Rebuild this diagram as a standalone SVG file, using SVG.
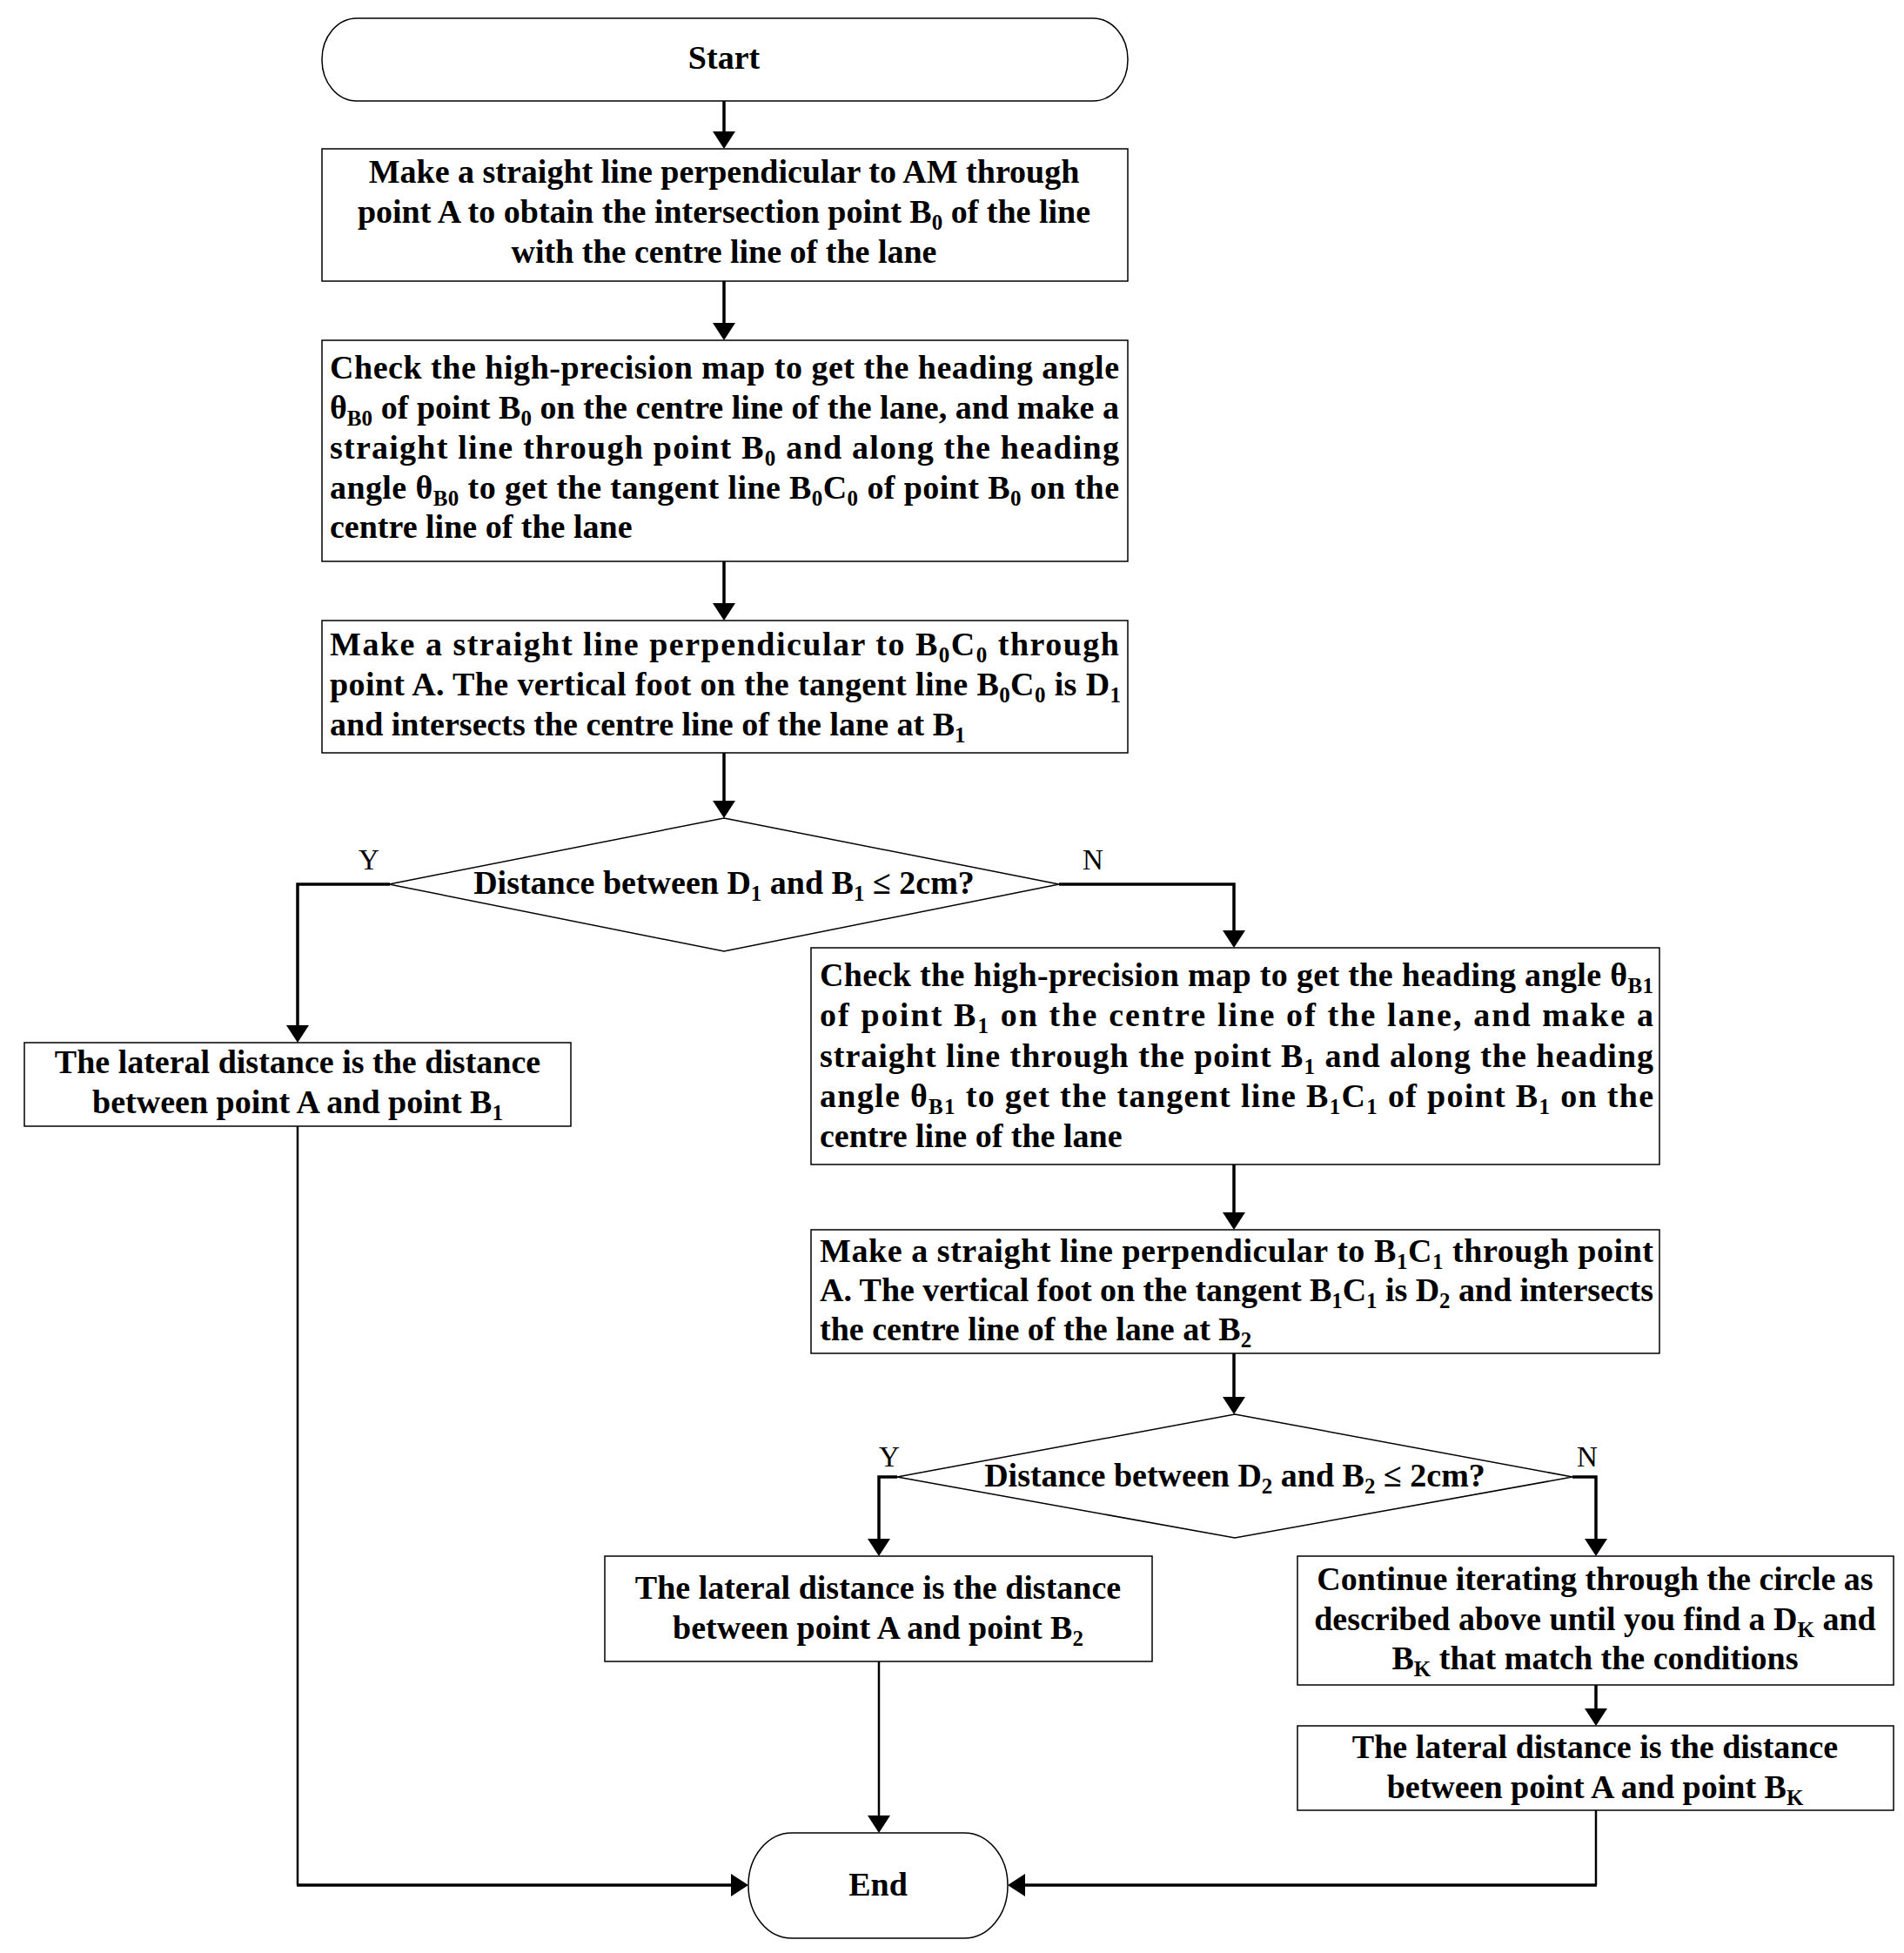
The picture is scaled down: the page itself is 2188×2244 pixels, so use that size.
<svg xmlns="http://www.w3.org/2000/svg" width="2188" height="2244" viewBox="0 0 2188 2244">
<style>
.box{fill:#fff;stroke:#000;stroke-width:1.5}
.t{font-family:"Liberation Serif","Times New Roman",serif;font-weight:bold;font-size:38px;fill:#000}
.c{text-anchor:middle}
.yn{font-family:"Liberation Serif","Times New Roman",serif;font-size:33px;fill:#000;text-anchor:middle}
.sub{font-size:25px;baseline-shift:-8px}
.conn{fill:none;stroke:#000;stroke-width:3.5}
.thin{fill:none;stroke:#000;stroke-width:2.5}
</style>
<defs>
<marker id="ah" markerUnits="userSpaceOnUse" markerWidth="20" markerHeight="26" viewBox="0 0 20 26" refX="10" refY="13" orient="auto">
<path d="M0,0 L20,13 L0,26 z" fill="#000"/>
</marker>
</defs>
<rect width="2188" height="2244" fill="#fff"/>
<g id="connectors">
<path class="conn" d="M832,116 V161" marker-end="url(#ah)"/>
<path class="conn" d="M832,323 V381" marker-end="url(#ah)"/>
<path class="conn" d="M832,645 V703" marker-end="url(#ah)"/>
<path class="conn" d="M832,865 V930" marker-end="url(#ah)"/>
<path class="conn" d="M448,1016 H342 V1188" marker-end="url(#ah)"/>
<path class="conn" d="M1217,1016 H1418 V1079" marker-end="url(#ah)"/>
<path class="conn" d="M1418,1338 V1403" marker-end="url(#ah)"/>
<path class="conn" d="M1418,1555 V1615" marker-end="url(#ah)"/>
<path class="conn" d="M1031,1697 H1010 V1778" marker-end="url(#ah)"/>
<path class="conn" d="M1807,1697 H1834 V1778" marker-end="url(#ah)"/>
<path class="conn" d="M1834,1936 V1973" marker-end="url(#ah)"/>
<path class="thin" d="M342,1294 V2166"/>
<path class="conn" d="M341,2166 H850" marker-end="url(#ah)"/>
<path class="thin" d="M1010,1909 V2096" marker-end="url(#ah)"/>
<path class="thin" d="M1834,2080 V2166"/>
<path class="conn" d="M1835,2166 H1168" marker-end="url(#ah)"/>
<text class="yn" x="424" y="999">Y</text>
<text class="yn" x="1256" y="999">N</text>
<text class="yn" x="1022" y="1685">Y</text>
<text class="yn" x="1824" y="1685">N</text>
</g>
<g id="start">
<rect class="box" x="370" y="21" width="926" height="95" rx="40" ry="47"/>
<text class="t c" x="832" y="79">Start</text>
</g>
<g id="step1">
<rect class="box" x="370" y="171" width="926" height="152"/>
<text class="t c" x="832" y="210">Make a straight line perpendicular to AM through</text>
<text class="t c" x="832" y="256">point A to obtain the intersection point B<tspan class="sub">0</tspan> of the line</text>
<text class="t c" x="832" y="302">with the centre line of the lane</text>
</g>
<g id="step2">
<rect class="box" x="370" y="391" width="926" height="254"/>
<text class="t" x="379" y="435" textLength="907" lengthAdjust="spacing">Check the high-precision map to get the heading angle</text>
<text class="t" x="379" y="481" textLength="907" lengthAdjust="spacing">θ<tspan class="sub">B0</tspan> of point B<tspan class="sub">0</tspan> on the centre line of the lane, and make a</text>
<text class="t" x="379" y="527" textLength="907" lengthAdjust="spacing">straight line through point B<tspan class="sub">0</tspan> and along the heading</text>
<text class="t" x="379" y="573" textLength="907" lengthAdjust="spacing">angle θ<tspan class="sub">B0</tspan> to get the tangent line B<tspan class="sub">0</tspan>C<tspan class="sub">0</tspan> of point B<tspan class="sub">0</tspan> on the</text>
<text class="t" x="379" y="618">centre line of the lane</text>
</g>
<g id="step3">
<rect class="box" x="370" y="713" width="926" height="152"/>
<text class="t" x="379" y="753" textLength="907" lengthAdjust="spacing">Make a straight line perpendicular to B<tspan class="sub">0</tspan>C<tspan class="sub">0</tspan> through</text>
<text class="t" x="379" y="799" textLength="909" lengthAdjust="spacing">point A. The vertical foot on the tangent line B<tspan class="sub">0</tspan>C<tspan class="sub">0</tspan> is D<tspan class="sub">1</tspan></text>
<text class="t" x="379" y="845">and intersects the centre line of the lane at B<tspan class="sub">1</tspan></text>
</g>
<g id="decision1">
<polygon class="box" points="832,940 1217,1016 832,1093 447,1016"/>
<text class="t c" x="832" y="1027">Distance between D<tspan class="sub">1</tspan> and B<tspan class="sub">1</tspan> ≤ 2cm?</text>
</g>
<g id="result1">
<rect class="box" x="28" y="1198" width="628" height="96"/>
<text class="t c" x="342" y="1233">The lateral distance is the distance</text>
<text class="t c" x="342" y="1279">between point A and point B<tspan class="sub">1</tspan></text>
</g>
<g id="step4">
<rect class="box" x="932" y="1089" width="975" height="249"/>
<text class="t" x="942" y="1133" textLength="958" lengthAdjust="spacing">Check the high-precision map to get the heading angle θ<tspan class="sub">B1</tspan></text>
<text class="t" x="942" y="1179" textLength="958" lengthAdjust="spacing">of point B<tspan class="sub">1</tspan> on the centre line of the lane, and make a</text>
<text class="t" x="942" y="1226" textLength="958" lengthAdjust="spacing">straight line through the point B<tspan class="sub">1</tspan> and along the heading</text>
<text class="t" x="942" y="1272" textLength="958" lengthAdjust="spacing">angle θ<tspan class="sub">B1</tspan> to get the tangent line B<tspan class="sub">1</tspan>C<tspan class="sub">1</tspan> of point B<tspan class="sub">1</tspan> on the</text>
<text class="t" x="942" y="1318">centre line of the lane</text>
</g>
<g id="step5">
<rect class="box" x="932" y="1413" width="975" height="142"/>
<text class="t" x="942" y="1450" textLength="958" lengthAdjust="spacing">Make a straight line perpendicular to B<tspan class="sub">1</tspan>C<tspan class="sub">1</tspan> through point</text>
<text class="t" x="942" y="1495" textLength="958" lengthAdjust="spacing">A. The vertical foot on the tangent B<tspan class="sub">1</tspan>C<tspan class="sub">1</tspan> is D<tspan class="sub">2</tspan> and intersects</text>
<text class="t" x="942" y="1540">the centre line of the lane at B<tspan class="sub">2</tspan></text>
</g>
<g id="decision2">
<polygon class="box" points="1419,1625 1807,1697 1419,1767 1031,1697"/>
<text class="t c" x="1419" y="1708">Distance between D<tspan class="sub">2</tspan> and B<tspan class="sub">2</tspan> ≤ 2cm?</text>
</g>
<g id="result2">
<rect class="box" x="695" y="1788" width="629" height="121"/>
<text class="t c" x="1009" y="1837">The lateral distance is the distance</text>
<text class="t c" x="1009" y="1883">between point A and point B<tspan class="sub">2</tspan></text>
</g>
<g id="iterate">
<rect class="box" x="1491" y="1788" width="685" height="148"/>
<text class="t c" x="1833" y="1827">Continue iterating through the circle as</text>
<text class="t c" x="1833" y="1873">described above until you find a D<tspan class="sub">K</tspan> and</text>
<text class="t c" x="1833" y="1918">B<tspan class="sub">K</tspan> that match the conditions</text>
</g>
<g id="resultK">
<rect class="box" x="1491" y="1983" width="685" height="97"/>
<text class="t c" x="1833" y="2020">The lateral distance is the distance</text>
<text class="t c" x="1833" y="2066">between point A and point B<tspan class="sub">K</tspan></text>
</g>
<g id="end">
<rect class="box" x="860" y="2106" width="298" height="121" rx="50" ry="60"/>
<text class="t c" x="1009" y="2178">End</text>
</g>
</svg>
